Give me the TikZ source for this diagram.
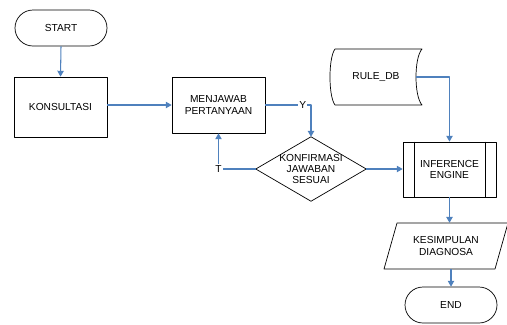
\documentclass[tikz,border=0pt]{standalone}
\usepackage{fontspec}
\setmainfont{Liberation Sans}
\usetikzlibrary{arrows.meta,calc}

\definecolor{linkblue}{RGB}{79,129,189}

\begin{document}
\begin{tikzpicture}[
  x=0.03cm,
  y=-0.03cm,
  line join=round,
  font=\fontsize{8.7}{9.8}\selectfont,
  box/.style={draw, line width=0.6pt, align=center, inner sep=2pt,
    minimum width=2.79cm},
  term/.style={box, minimum width=2.76cm, minimum height=1.08cm,
    rounded corners=0.54cm},
  ghost/.style={align=center, inner sep=0pt},
  outline/.style={draw, line width=0.6pt},
  link/.style={draw=linkblue, line width=0.9pt,
    -{Triangle[width=5.5pt,length=5pt]}},
  lbl/.style={fill=white, inner sep=1pt}
]
  \useasboundingbox (0,0) rectangle (507,324);

  % Simpul
  \node[term] (start) at (61,28) {START};
  \node[box, minimum height=1.8cm] (kons) at (60.5,107) {KONSULTASI};
  \node[box, minimum height=1.68cm] (jawab) at (218.5,105) {MENJAWAB\\PERTANYAAN};
  \node[ghost, minimum width=3.3cm, minimum height=1.92cm] (konf) at (311,169)
    {KONFIRMASI\\JAWABAN\\SESUAI};
  \node[ghost, minimum width=2.76cm, minimum height=1.68cm] (rule) at (376,77) {RULE\_DB};
  \node[box, minimum height=1.65cm] (ie) at (449.5,169.5) {INFERENCE\\ENGINE};
  \node[ghost, minimum width=3.72cm, minimum height=1.38cm] (kes) at (446,246)
    {KESIMPULAN\\DIAGNOSA};
  \node[term] (end) at (451,305) {END};

  % Belah ketupat
  \draw[outline] (konf.north) -- (konf.east) -- (konf.south) -- (konf.west) -- cycle;

  % Data tersimpan
  \begin{scope}[shift={(rule)}]
    \draw[outline] (-41,-28) -- (46,-28)
      .. controls (38,-19) and (38,19) .. (46,28) -- (-41,28)
      .. controls (-47.7,19) and (-47.7,-19) .. (-41,-28) -- cycle;
  \end{scope}
  \coordinate (ruleout) at ($(rule.east)+(-6,0)$);

  % Proses terdefinisi
  \draw[outline] ($(ie.north west)+(12,0)$) -- ($(ie.south west)+(12,0)$);
  \draw[outline] ($(ie.north east)+(-11,0)$) -- ($(ie.south east)+(-11,0)$);

  % Jajaran genjang
  \begin{scope}[shift={(kes)}]
    \draw[outline] (-62,23) -- (49,23) -- (62,-23) -- (-49,-23) -- cycle;
  \end{scope}

  % Alur
  \draw[link] (start.south) -- (kons.north);
  \draw[link] (kons.east |- jawab.west) -- (jawab.west);
  \draw[link] (jawab.east) -- node[lbl, pos=0.82] {Y} (jawab.east -| konf.north)
    -- (konf.north);
  \draw[link] (konf.west) -- (konf.west -| jawab.south) node[lbl] {T}
    -- (jawab.south);
  \draw[link] (konf.east) -- (konf.east -| ie.west);
  \draw[link] (ruleout) -- (ruleout -| ie.north) -- (ie.north);
  \draw[link] (ie.south) -- (ie.south |- kes.north);
  \draw[link] (end.north |- kes.south) -- (end.north);
\end{tikzpicture}
\end{document}
